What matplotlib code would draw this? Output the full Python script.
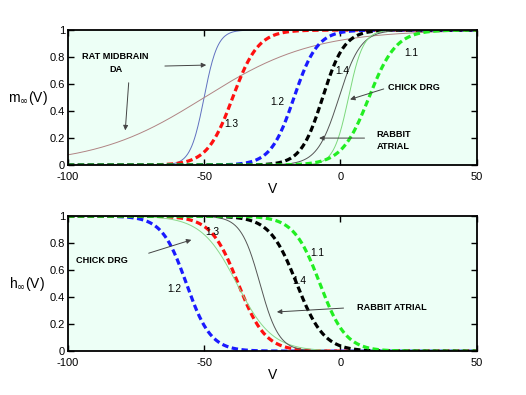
import matplotlib.pyplot as plt
import numpy as np

plt.rcParams['font.family'] = ['Liberation Sans', 'DejaVu Sans']

# Boltzmann parameters (half-activation V, slope k), in mV
# activation m_inf(V)
m_names = ['rat_steep', 'rat_shallow', '1.3', '1.2', '1.4', 'rabbit', 'chick', '1.1']
m_vhalf = [-50.0, -50.0, -39.5, -17.0, -6.5, -0.5, 3.0, 10.5]
m_slope = [2.5, 20.0, 4.7, 4.3, 4.0, 4.0, 2.7, 5.0]
m_colors = ['#6070c0', '#b08484', '#ff1010', '#1a1aff', '#000000', '#555555', '#7cd87c', '#22ee22']
m_dashed = [False, False, True, True, True, False, False, True]

# inactivation h_inf(V)
h_names = ['1.2', '1.3', 'chick', 'rabbit', '1.4', '1.1']
h_vhalf = [-56.5, -37.5, -38.0, -29.5, -16.0, -7.5]
h_slope = [4.5, 5.0, 6.5, 3.5, 5.0, 4.8]
h_colors = ['#1a1aff', '#ff1010', '#8ad88a', '#555555', '#000000', '#22ee22']
h_dashed = [True, True, False, False, True, True]

V = np.linspace(-100, 50, 601)

fig = plt.figure(figsize=(5.26, 3.95), dpi=100)
ax1 = fig.add_axes([0.129, 0.582, 0.777, 0.342])
ax2 = fig.add_axes([0.129, 0.111, 0.777, 0.342])

bg = '#edfff6'


def draw_curve(ax, y, color, dashed):
    if dashed:
        ax.plot(V, y, color=color, lw=2.3, dashes=(2.0, 1.1))
    else:
        ax.plot(V, y, color=color, lw=0.7)


for vh, k, c, d in zip(m_vhalf, m_slope, m_colors, m_dashed):
    draw_curve(ax1, 1 / (1 + np.exp(-(V - vh) / k)), c, d)

for vh, k, c, d in zip(h_vhalf, h_slope, h_colors, h_dashed):
    draw_curve(ax2, 1 / (1 + np.exp((V - vh) / k)), c, d)

for ax in (ax1, ax2):
    ax.set_facecolor(bg)
    ax.set_xlim(-100, 50)
    ax.set_ylim(0, 1)
    ax.set_xticks([-100, -50, 0, 50])
    ax.set_xticklabels(['-100', '-50', '0', '50'])
    ax.set_yticks([0, 0.2, 0.4, 0.6, 0.8, 1])
    ax.set_yticklabels(['0', '0.2', '0.4', '0.6', '0.8', '1'])
    ax.tick_params(direction='in', top=True, right=True, length=4, width=1,
                   labelsize=8)
    ax.tick_params(axis='x', pad=5)
    ax.tick_params(axis='y', pad=2)
    for s in ax.spines.values():
        s.set_linewidth(1.3)
    ax.set_xlabel('V', fontsize=10, labelpad=0)

ax1.set_ylabel(r'm$_{\infty}$(V)', fontsize=10, rotation=0, labelpad=16, va='center')
ax2.set_ylabel(r'h$_{\infty}$(V)', fontsize=10, rotation=0, labelpad=16, va='center')

lab = dict(fontsize=6.6, fontweight='bold', ha='center', va='center')
num = dict(fontsize=7.3, ha='center', va='center')
arr = dict(arrowstyle='-|>', color='#444444', lw=0.7, mutation_scale=7)

# top panel labels
ax1.text(-82.7, 0.807, 'RAT MIDBRAIN', **lab)
ax1.text(-82.4, 0.711, 'DA', **lab)
ax1.annotate('', xy=(-48.2, 0.741), xytext=(-65.4, 0.733), arrowprops=arr)
ax1.annotate('', xy=(-79.0, 0.237), xytext=(-77.6, 0.63), arrowprops=arr)
ax1.text(-40.1, 0.304, '1.3', **num)
ax1.text(-23.2, 0.467, '1.2', **num)
ax1.text(0.7, 0.696, '1.4', **num)
ax1.text(26.1, 0.83, '1.1', **num)
ax1.text(27.2, 0.578, 'CHICK DRG', **lab)
ax1.annotate('', xy=(2.6, 0.48), xytext=(16.9, 0.57), arrowprops=arr)
ax1.text(19.5, 0.23, 'RABBIT', **lab)
ax1.text(19.5, 0.14, 'ATRIAL', **lab)
ax1.annotate('', xy=(-8.8, 0.2), xytext=(9.9, 0.2), arrowprops=arr)

# bottom panel labels
ax2.text(-87.5, 0.674, 'CHICK DRG', **lab)
ax2.annotate('', xy=(-53.7, 0.83), xytext=(-71.3, 0.719), arrowprops=arr)
ax2.text(-47.1, 0.88, '1.3', **num)
ax2.text(-61.0, 0.46, '1.2', **num)
ax2.text(-8.5, 0.726, '1.1', **num)
ax2.text(-15.1, 0.52, '1.4', **num)
ax2.text(18.8, 0.32, 'RABBIT ATRIAL', **lab)
ax2.annotate('', xy=(-24.3, 0.289), xytext=(2.2, 0.32), arrowprops=arr)

fig.savefig('out.png', dpi=100)
